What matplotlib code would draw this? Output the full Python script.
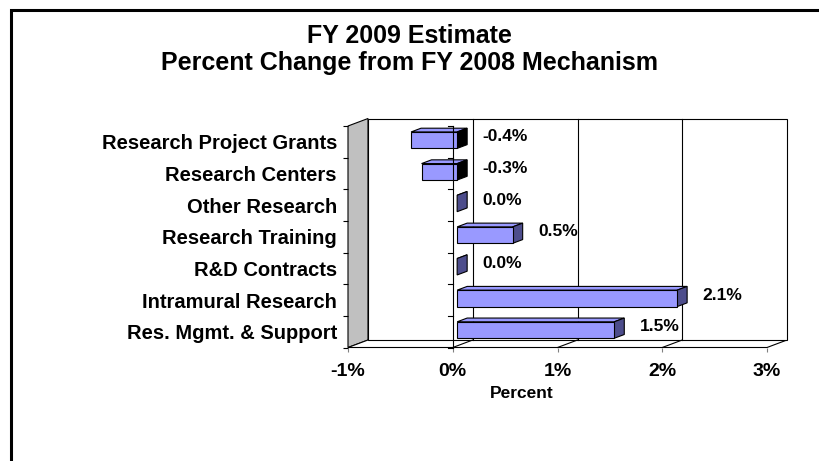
import matplotlib
matplotlib.use("Agg")
import matplotlib.pyplot as plt
import numpy as np
from matplotlib.patches import Polygon, Rectangle
from matplotlib.transforms import IdentityTransform, ScaledTranslation

categories = ["Research Project Grants", "Research Centers", "Other Research",
              "Research Training", "R&D Contracts", "Intramural Research",
              "Res. Mgmt. & Support"]
values = [-0.44, -0.34, 0.0, 0.53, 0.0, 2.1, 1.5]
xticks = [-1, 0, 1, 2, 3]

plt.rcParams['font.family'] = ['Liberation Sans', 'DejaVu Sans']
plt.rcParams['font.weight'] = 'bold'

fig = plt.figure(figsize=(8.19, 4.61), dpi=100)
ax = fig.add_axes([348/819, 113.5/461, 419/819, 221.5/461])
ax.set_xlim(-1, 3)
ax.set_ylim(6.5, -0.5)
for s in ax.spines.values():
    s.set_visible(False)
ax.patch.set_alpha(0)

ax.set_xticks(xticks)
ax.set_xticklabels([f"{t}%" for t in xticks])
ax.set_yticks(range(len(categories)))
ax.set_yticklabels(categories)
ax.set_yticks(np.arange(-0.5, len(categories), 1), minor=True)
ax.tick_params(axis='y', which='major', length=0, pad=8, labelsize=14.5)
ax.tick_params(axis='y', which='minor', length=3.6, width=0.8, color='black')
ax.tick_params(axis='x', length=3, width=0.8, color='gray', pad=8, labelsize=14)

# depth of the 3d box in pixels (right, up)
DEPTH = np.array([20.0, 7.5])

def P(x, y, d=0.0):
    return ax.transData.transform((x, y)) + d * DEPTH

def face(pts, **kw):
    ax.add_patch(Polygon([P(*p) for p in pts], closed=True,
                         transform=IdentityTransform(), clip_on=False, **kw))

def seg(p1, p2, **kw):
    a, b = P(*p1), P(*p2)
    ax.add_line(plt.Line2D([a[0], b[0]], [a[1], b[1]],
                           transform=IdentityTransform(), clip_on=False, **kw))

x0, x1 = -1, 3
y0, y1 = -0.5, len(categories) - 0.5

# walls
face([(x0, y1, 0), (x0, y0, 0), (x0, y0, 1), (x0, y1, 1)], fc='#C0C0C0', ec='black', lw=0.8, zorder=1)
face([(x0, y1, 0), (x1, y1, 0), (x1, y1, 1), (x0, y1, 1)], fc='white', ec='black', lw=0.8, zorder=1)
face([(x0, y1, 1), (x1, y1, 1), (x1, y0, 1), (x0, y0, 1)], fc='white', ec='black', lw=0.8, zorder=1)
for v in xticks[1:-1]:
    seg((v, y1, 1), (v, y0, 1), color='black', lw=0.8, zorder=1.5)
    seg((v, y1, 0), (v, y1, 1), color='black', lw=0.8, zorder=1.5)

# bars
d0, d1 = 0.22, 0.72
h = 0.26
front = ax.transData + ScaledTranslation(d0 * DEPTH[0] / 100, d0 * DEPTH[1] / 100, fig.dpi_scale_trans)
for i, v in enumerate(values):
    a, b = min(v, 0), max(v, 0)
    top, bot = i - h, i + h
    side = 'black' if v < 0 else '#4D4D8C'
    face([(a, top, d0), (b, top, d0), (b, top, d1), (a, top, d1)], fc='#9999FF', ec='black', lw=0.8, zorder=2)
    face([(b, top, d0), (b, bot, d0), (b, bot, d1), (b, top, d1)], fc=side, ec='black', lw=0.8, zorder=2)
    if v != 0:
        ax.barh(i, v, height=2 * h, color='#9999FF', edgecolor='black', lw=0.8,
                transform=front, zorder=3)
    ax.annotate(f"{v:.1f}%", xy=(b, i), xytext=(30, 5), textcoords='offset pixels',
                ha='left', va='center', fontsize=12.5, fontweight='bold', zorder=4)

# category axis line at zero
seg((0, y0), (0, y1), color='black', lw=0.8, zorder=4)
for yb in np.arange(y0, y1 + 0.5, 1):
    a = P(0, yb)
    ax.add_line(plt.Line2D([a[0] - 5, a[0]], [a[1], a[1]], transform=IdentityTransform(),
                           clip_on=False, color='black', lw=0.8, zorder=4))

fig.text(522/819, 1 - 393/461, "Percent", ha='center', va='center', fontsize=12.5, fontweight='bold')
fig.text(0.5, 1 - 36/461, "FY 2009 Estimate", ha='center', va='center', fontsize=18, fontweight='bold')
fig.text(0.5, 1 - 63/461, "Percent Change from FY 2008 Mechanism", ha='center', va='center',
         fontsize=18, fontweight='bold')

fig.patches.append(Rectangle((11/819, -0.05), 1.0, (461 - 10)/461 + 0.05, transform=fig.transFigure,
                             fill=False, ec='black', lw=2.2))

fig.savefig("out.png", dpi=100)
